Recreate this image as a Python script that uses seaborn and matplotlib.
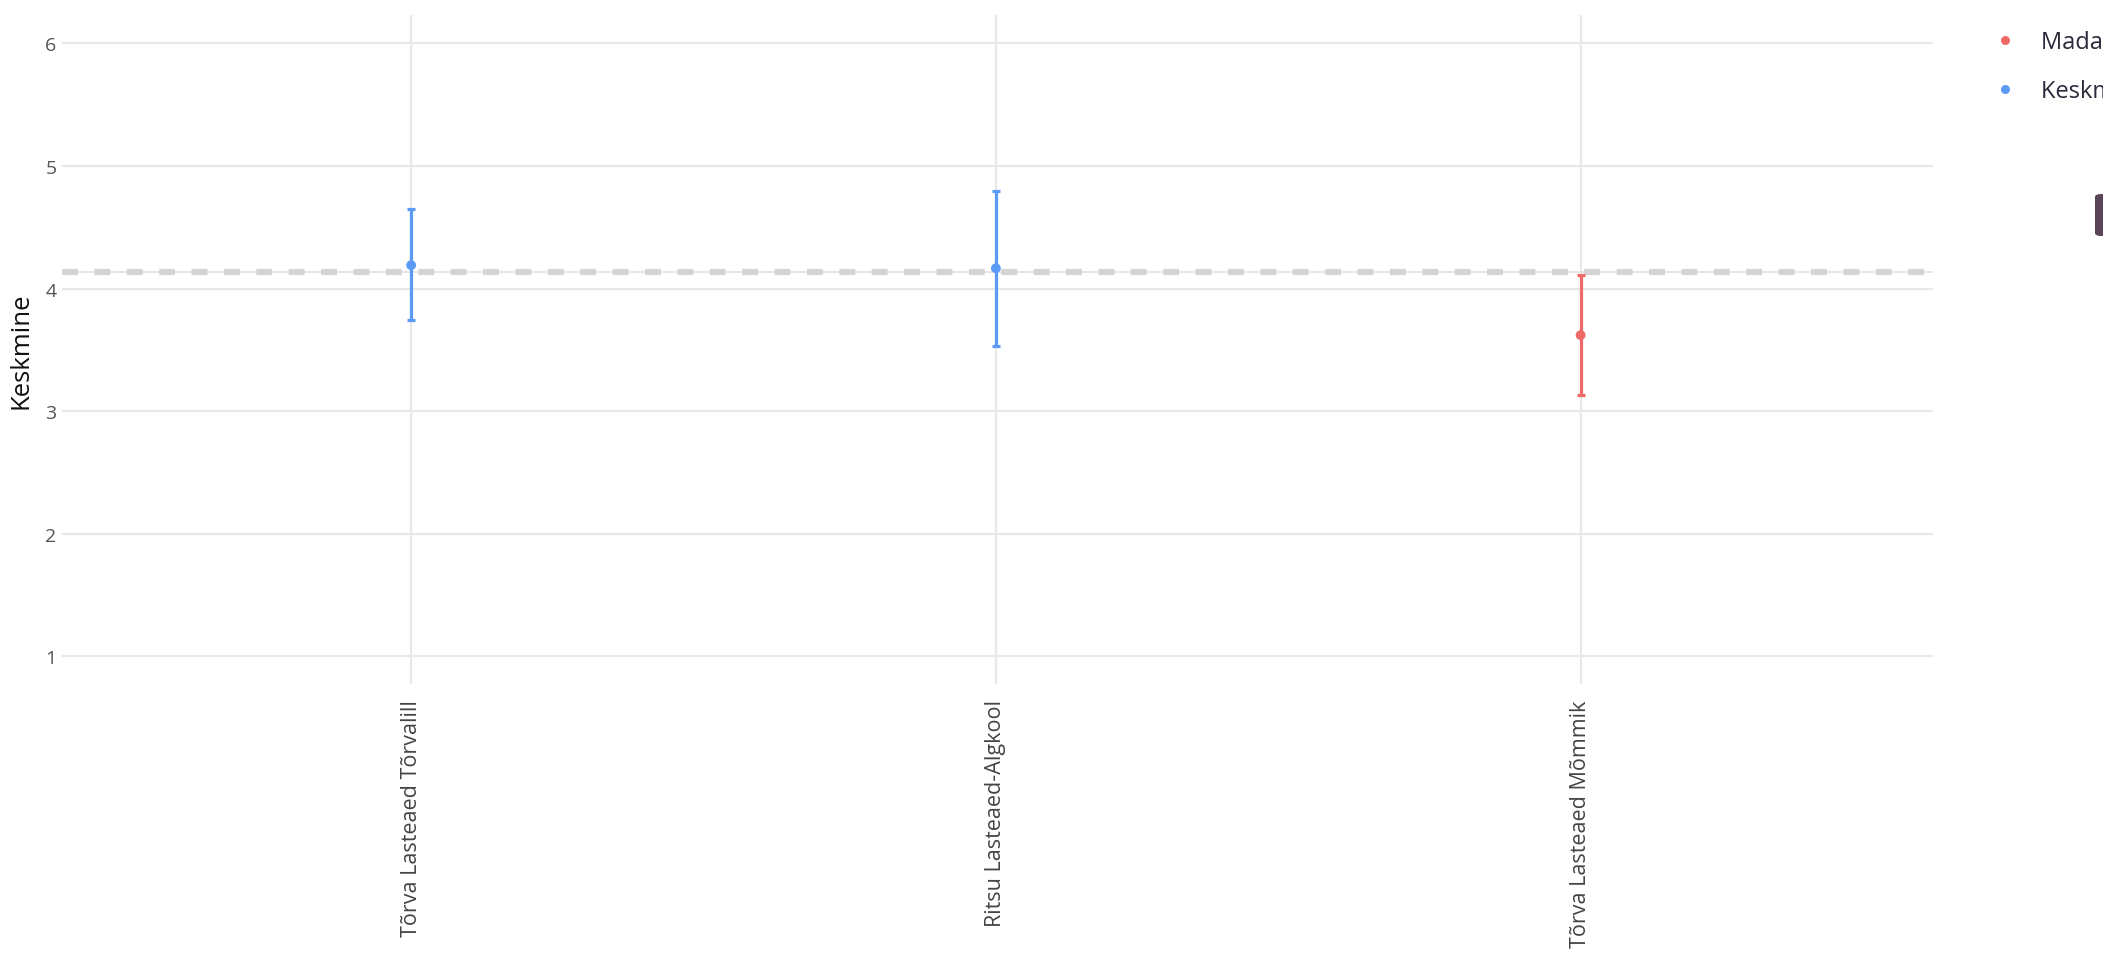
#!/usr/bin/env python3
"""
Keskmised hinnangud lasteaedade kaupa, usaldusvahemikega.
"""

import matplotlib
matplotlib.use("Agg")
import matplotlib.pyplot as plt
from matplotlib.lines import Line2D
from matplotlib.patches import FancyBboxPatch
import pandas as pd
import seaborn as sns

# Andmed (loetud pildilt)
asutused = ["Tõrva Lasteaed Tõrvalill", "Ritsu Lasteaed-Algkool", "Tõrva Lasteaed Mõmmik"]
keskmised = [4.19, 4.165, 3.62]
alumised = [3.745, 3.53, 3.13]
ulemised = [4.645, 4.795, 4.11]
grupid = ["Keskmine või kõrgem", "Keskmine või kõrgem", "Madalam kui keskmine"]
uldkeskmine = 4.135

varvid = {"Madalam kui keskmine": "#EF6A66", "Keskmine või kõrgem": "#5B9BF5"}
legendi_jarjekord = ["Madalam kui keskmine", "Keskmine või kõrgem"]


def joonista():
    sns.set_theme(style="white")
    plt.rcParams["font.family"] = ["Open Sans", "DejaVu Sans"]

    df = pd.DataFrame({
        "asutus": asutused,
        "keskmine": keskmised,
        "alumine": alumised,
        "ulemine": ulemised,
        "grupp": grupid,
    })
    df["x"] = range(len(df))

    fig = plt.figure(figsize=(21.03, 9.54), dpi=100)
    ax = fig.add_axes([0.0295, 0.282, 0.8895, 0.701])

    # ruudustik
    for v in range(1, 7):
        ax.axhline(v, color="#e8e8e8", lw=1.6, zorder=0)
    for xv in df["x"]:
        ax.axvline(xv, color="#e8e8e8", lw=1.6, zorder=0)

    # üldkeskmise joon
    ax.axhline(uldkeskmine, color="#e2e2e2", lw=1.2, zorder=1)
    ax.axhline(uldkeskmine, color="#d4d4d4", lw=4.4, dashes=(2.6, 2.7), zorder=1)

    # veajooned
    for _, r in df.iterrows():
        c = varvid[r["grupp"]]
        ax.errorbar(r["x"], r["keskmine"],
                    yerr=[[r["keskmine"] - r["alumine"]], [r["ulemine"] - r["keskmine"]]],
                    fmt="none", ecolor=c, elinewidth=2.3, capsize=2.6, capthick=2.3, zorder=3)

    sns.scatterplot(data=df, x="x", y="keskmine", hue="grupp", palette=varvid,
                    s=50, edgecolor="none", legend=False, ax=ax, zorder=4)

    ax.set_xlim(-0.597, 2.602)
    ax.set_ylim(0.776, 6.228)
    ax.set_yticks(range(1, 7))
    ax.set_xticks(df["x"])
    ax.set_xticklabels(df["asutus"], rotation=90, fontsize=15.5, color="#444444")
    ax.tick_params(axis="y", labelsize=14, colors="#555555", length=0, pad=4)
    ax.tick_params(axis="x", length=0, pad=11)
    ax.set_xlabel("")
    ax.set_ylabel("Keskmine", fontsize=18.5, color="#111111")
    ax.yaxis.set_label_coords(-0.0155, 0.5)
    for s in ax.spines.values():
        s.set_visible(False)

    # legend paremal
    kasitlejad = [Line2D([0], [0], marker="o", linestyle="none", markersize=6.5,
                         markerfacecolor=varvid[g], markeredgecolor="none") for g in legendi_jarjekord]
    fig.legend(kasitlejad, legendi_jarjekord, loc="upper left",
               bbox_to_anchor=(0.9445, 0.977), frameon=False, fontsize=17,
               labelcolor="#2a2a3a", handlelength=0.8, handletextpad=1.1,
               labelspacing=1.05, borderaxespad=0)

    # tume nupp paremas servas
    fig.patches.append(FancyBboxPatch((2095 / 2103, 1 - 237 / 954), 0.01, 42 / 954,
                                      boxstyle="round,pad=0,rounding_size=0.003",
                                      transform=fig.transFigure, facecolor="#5a4658",
                                      edgecolor="none"))

    fig.savefig("out.png", dpi=100)
    plt.close(fig)


if __name__ == "__main__":
    joonista()
